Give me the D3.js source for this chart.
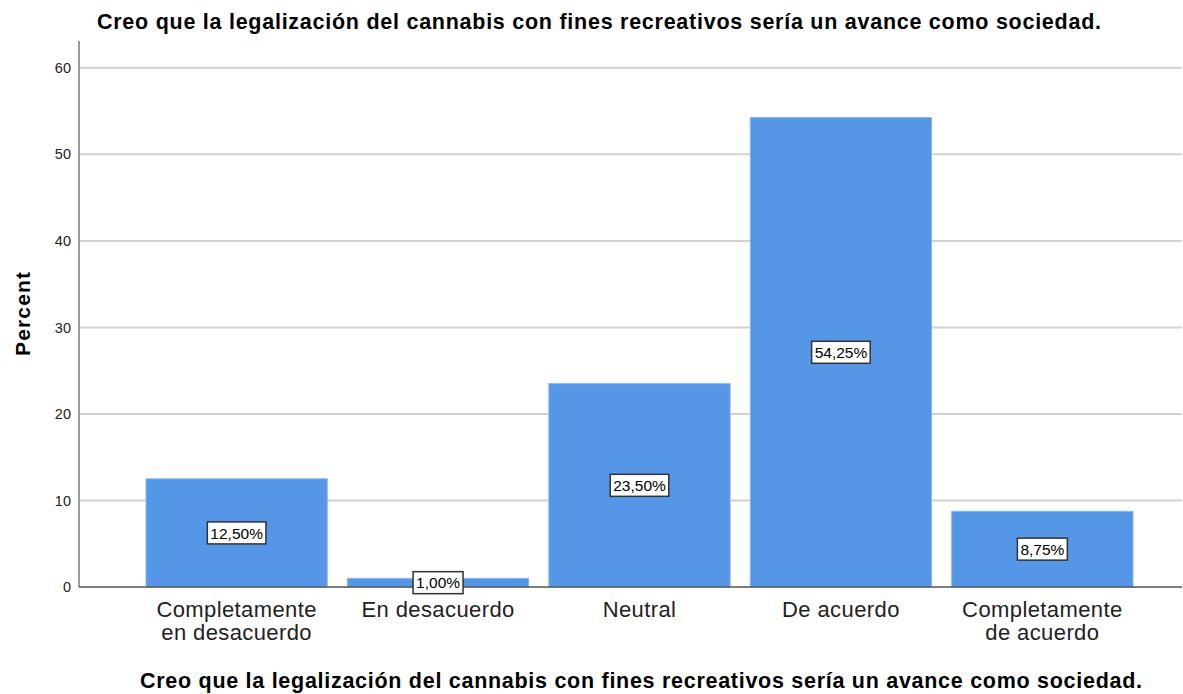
<!DOCTYPE html>
<html>
<head>
<meta charset="utf-8">
<script src="https://cdn.jsdelivr.net/npm/d3@7"></script>
<style>
  body { margin: 0; background: #fff; }
  svg { display: block; font-family: "Liberation Sans", Arial, sans-serif; }
</style>
</head>
<body>
<svg id="chart" width="1183" height="694"></svg>
<script>
const categories = [
  ["Completamente", "en desacuerdo"],
  ["En desacuerdo"],
  ["Neutral"],
  ["De acuerdo"],
  ["Completamente", "de acuerdo"]
];
const percents = [12.50, 1.00, 23.50, 54.25, 8.75];
const percentLabels = ["12,50%", "1,00%", "23,50%", "54,25%", "8,75%"];
const yTicks = [0, 10, 20, 30, 40, 50, 60];
const titleText = "Creo que la legalización del cannabis con fines recreativos sería un avance como sociedad.";
const yTitle = "Percent";

const svg = d3.select("#chart");
const plotLeft = 79, plotRight = 1182, plotTop = 41, plotBottom = 587;

const idx = categories.map((d, i) => i);
const x = d3.scaleBand().domain(idx).range([146, 1133]).paddingInner(0.1).paddingOuter(0);
const y = d3.scaleLinear().domain([0, 63.1]).range([plotBottom, plotTop]);

// gridlines
svg.append("g").selectAll("line").data(yTicks.filter(t => t > 0)).join("line")
  .attr("x1", plotLeft).attr("x2", plotRight)
  .attr("y1", d => y(d)).attr("y2", d => y(d))
  .attr("stroke", "#d2d2d2").attr("stroke-width", 2);

// y axis
const yAxis = d3.axisLeft(y).tickValues(yTicks).tickSize(0).tickPadding(8);
const gy = svg.append("g").attr("transform", `translate(${plotLeft},0)`).call(yAxis);
gy.select(".domain").remove();
gy.selectAll("text").attr("font-size", 14.5).attr("fill", "#222").attr("font-family", "Liberation Sans, Arial, sans-serif");
svg.append("line").attr("x1", plotLeft).attr("x2", plotLeft).attr("y1", plotTop).attr("y2", plotBottom)
  .attr("stroke", "#9a9a9a").attr("stroke-width", 2);

// bars
svg.append("g").selectAll("rect").data(percents).join("rect")
  .attr("x", (d, i) => x(i)).attr("width", x.bandwidth())
  .attr("y", d => y(d)).attr("height", d => y(0) - y(d))
  .attr("fill", "#5596e6").attr("stroke", "#8ab6ee").attr("stroke-width", 1);

// baseline
svg.append("line").attr("x1", plotLeft).attr("x2", plotRight).attr("y1", plotBottom).attr("y2", plotBottom)
  .attr("stroke", "#555").attr("stroke-width", 1.5);

// value labels
const lbl = svg.append("g").selectAll("g").data(percents).join("g")
  .attr("transform", (d, i) => `translate(${x(i) + x.bandwidth() / 2},${y(d / 2)})`);
lbl.append("rect").attr("fill", "#fff").attr("stroke", "#333").attr("stroke-width", 1.5);
lbl.append("text").text((d, i) => percentLabels[i])
  .attr("text-anchor", "middle").attr("dy", "0.36em").attr("font-size", 15.5).attr("fill", "#000");
lbl.each(function() {
  const g = d3.select(this);
  const w = g.select("text").node().getComputedTextLength();
  g.select("rect").attr("x", -w / 2 - 3).attr("y", -11).attr("width", w + 6).attr("height", 22);
});

// category labels
const cat = svg.append("g").selectAll("text").data(categories).join("text")
  .attr("text-anchor", "middle").attr("font-size", 22).attr("letter-spacing", 0.4).attr("fill", "#222")
  .attr("x", (d, i) => x(i) + x.bandwidth() / 2).attr("y", 617);
cat.selectAll("tspan").data(d => d).join("tspan")
  .attr("x", function() { return d3.select(this.parentNode).attr("x"); })
  .attr("dy", (d, j) => j === 0 ? 0 : 23)
  .text(d => d);

// titles
svg.append("text").text(titleText).attr("x", 599).attr("y", 29)
  .attr("text-anchor", "middle").attr("font-weight", "bold").attr("font-size", 21.5)
  .attr("textLength", 1004).attr("lengthAdjust", "spacing").attr("fill", "#000");
svg.append("text").text(titleText).attr("x", 641).attr("y", 688)
  .attr("text-anchor", "middle").attr("font-weight", "bold").attr("font-size", 21.5)
  .attr("textLength", 1002).attr("lengthAdjust", "spacing").attr("fill", "#000");
svg.append("text").text(yTitle)
  .attr("transform", `translate(30,${(272 + 356) / 2}) rotate(-90)`)
  .attr("text-anchor", "middle").attr("font-weight", "bold").attr("font-size", 21)
  .attr("textLength", 84).attr("lengthAdjust", "spacing").attr("fill", "#000");
</script>
</body>
</html>
